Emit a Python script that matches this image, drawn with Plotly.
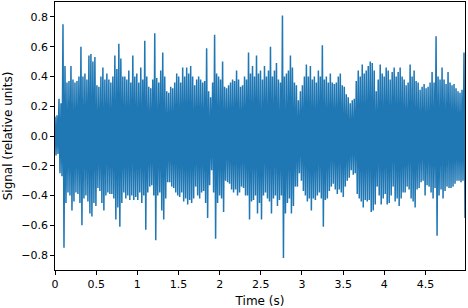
import numpy as np
import plotly.graph_objects as go

# Local maxima / minima of the signal, one pair per ~2 px column
upper = [
    0.13, 0.14, 0.25, 0.22, 0.75, 0.47, 0.36, 0.37, 0.47, 0.38, 0.36, 0.37, 0.40, 0.60, 0.40, 0.42, 0.38, 0.54, 0.55, 0.50, 0.53, 0.34, 0.33, 0.40, 0.46, 0.38, 0.42, 0.38, 0.36, 0.40, 0.54, 0.45, 0.62, 0.52, 0.40,
    0.40, 0.38, 0.44, 0.36, 0.54, 0.40, 0.42, 0.36, 0.46, 0.38, 0.64, 0.40, 0.33, 0.32, 0.38, 0.69, 0.39, 0.36, 0.44, 0.56, 0.40, 0.30, 0.29, 0.33, 0.32, 0.36, 0.42, 0.40, 0.36, 0.46, 0.40, 0.46, 0.42, 0.47, 0.40,
    0.34, 0.38, 0.40, 0.38, 0.36, 0.37, 0.59, 0.30, 0.26, 0.36, 0.68, 0.42, 0.40, 0.38, 0.50, 0.33, 0.32, 0.34, 0.36, 0.38, 0.37, 0.44, 0.38, 0.33, 0.34, 0.40, 0.38, 0.56, 0.42, 0.47, 0.40, 0.54, 0.42, 0.44, 0.38,
    0.47, 0.40, 0.44, 0.60, 0.40, 0.44, 0.49, 0.38, 0.36, 0.81, 0.40, 0.42, 0.44, 0.54, 0.46, 0.36, 0.34, 0.24, 0.30, 0.34, 0.40, 0.48, 0.40, 0.47, 0.38, 0.40, 0.36, 0.44, 0.40, 0.61, 0.38, 0.40, 0.36, 0.42, 0.36,
    0.35, 0.36, 0.40, 0.42, 0.34, 0.33, 0.28, 0.26, 0.22, 0.24, 0.25, 0.37, 0.44, 0.40, 0.48, 0.42, 0.44, 0.47, 0.50, 0.49, 0.44, 0.30, 0.38, 0.48, 0.42, 0.40, 0.46, 0.44, 0.38, 0.43, 0.46, 0.40, 0.43, 0.46, 0.40,
    0.38, 0.34, 0.36, 0.48, 0.40, 0.44, 0.37, 0.36, 0.31, 0.33, 0.35, 0.32, 0.33, 0.36, 0.43, 0.36, 0.67, 0.40, 0.38, 0.46, 0.38, 0.35, 0.43, 0.36, 0.34, 0.35, 0.32, 0.30, 0.29, 0.31, 0.56,
]
lower = [
    -0.13, -0.12, -0.25, -0.27, -0.75, -0.45, -0.38, -0.40, -0.50, -0.44, -0.38, -0.39, -0.45, -0.60, -0.42, -0.40, -0.44, -0.52, -0.54, -0.45, -0.47, -0.35, -0.37, -0.45, -0.50, -0.40, -0.38, -0.39, -0.39, -0.42, -0.56, -0.48, -0.61, -0.45, -0.38,
    -0.42, -0.40, -0.43, -0.40, -0.43, -0.41, -0.43, -0.38, -0.45, -0.40, -0.63, -0.38, -0.34, -0.33, -0.40, -0.70, -0.40, -0.38, -0.50, -0.56, -0.42, -0.31, -0.31, -0.34, -0.35, -0.38, -0.40, -0.41, -0.38, -0.44, -0.42, -0.46, -0.43, -0.45, -0.42,
    -0.34, -0.40, -0.42, -0.38, -0.37, -0.45, -0.55, -0.33, -0.23, -0.38, -0.69, -0.45, -0.40, -0.42, -0.51, -0.30, -0.31, -0.32, -0.36, -0.38, -0.36, -0.40, -0.38, -0.34, -0.35, -0.40, -0.40, -0.56, -0.44, -0.43, -0.40, -0.52, -0.45, -0.56, -0.40,
    -0.38, -0.42, -0.44, -0.52, -0.42, -0.40, -0.47, -0.43, -0.40, -0.82, -0.52, -0.45, -0.42, -0.52, -0.47, -0.34, -0.34, -0.25, -0.30, -0.37, -0.40, -0.44, -0.42, -0.50, -0.42, -0.43, -0.40, -0.38, -0.42, -0.61, -0.43, -0.42, -0.37, -0.34, -0.32,
    -0.36, -0.39, -0.36, -0.38, -0.41, -0.34, -0.30, -0.28, -0.23, -0.26, -0.25, -0.39, -0.42, -0.44, -0.48, -0.43, -0.44, -0.43, -0.51, -0.50, -0.46, -0.34, -0.40, -0.46, -0.42, -0.39, -0.46, -0.45, -0.40, -0.34, -0.44, -0.42, -0.47, -0.42, -0.38,
    -0.38, -0.34, -0.36, -0.42, -0.44, -0.48, -0.36, -0.35, -0.31, -0.30, -0.40, -0.33, -0.34, -0.38, -0.42, -0.35, -0.67, -0.40, -0.36, -0.42, -0.37, -0.34, -0.35, -0.35, -0.34, -0.32, -0.30, -0.30, -0.31, -0.30, -0.55,
]
duration_s = 4.98

x_tick_vals = [0, 0.5, 1, 1.5, 2, 2.5, 3, 3.5, 4, 4.5]
x_tick_text = ["0", "0.5", "1", "1.5", "2", "2.5", "3", "3.5", "4", "4.5"]
y_tick_vals = [0.8, 0.6, 0.4, 0.2, 0.0, -0.2, -0.4, -0.6, -0.8]
y_tick_text = ["0.8", "0.6", "0.4", "0.2", "0.0", "\u22120.2", "\u22120.4", "\u22120.6", "\u22120.8"]

# interleave extremes into one sample sequence
signal = np.empty(2 * len(upper))
signal[0::2] = upper
signal[1::2] = lower
t = np.linspace(0, duration_s, len(signal))

fig = go.Figure(go.Scatter(x=t, y=signal, mode="lines",
                           line=dict(color="#1f77b4", width=1.5), hoverinfo="skip"))

tick_font = dict(family="DejaVu Sans", size=11, color="black")
title_font = dict(family="DejaVu Sans", size=12, color="black")
fig.update_layout(
    width=468, height=308,
    margin=dict(l=55, r=3, t=2, b=38),
    paper_bgcolor="white", plot_bgcolor="white",
    showlegend=False, font=tick_font,
    xaxis=dict(range=[0, duration_s], tickvals=x_tick_vals, ticktext=x_tick_text,
               showline=True, linecolor="black", linewidth=0.8, mirror=True,
               ticks="outside", ticklen=4, tickcolor="black", tickwidth=0.8,
               showgrid=False, zeroline=False, automargin=False, tickfont=tick_font,
               title=dict(text="Time (s)", font=title_font, standoff=6)),
    yaxis=dict(range=[-0.9, 0.9], tickvals=y_tick_vals, ticktext=y_tick_text,
               showline=True, linecolor="black", linewidth=0.8, mirror=True,
               ticks="outside", ticklen=4, tickcolor="black", tickwidth=0.8,
               showgrid=False, zeroline=False, automargin=False, tickfont=tick_font,
               title=dict(text="Signal (relative units)", font=title_font, standoff=5)),
)
fig.write_html("out.html", config={"displayModeBar": False},
               post_script="document.body.style.margin='0';document.body.style.padding='0';")
